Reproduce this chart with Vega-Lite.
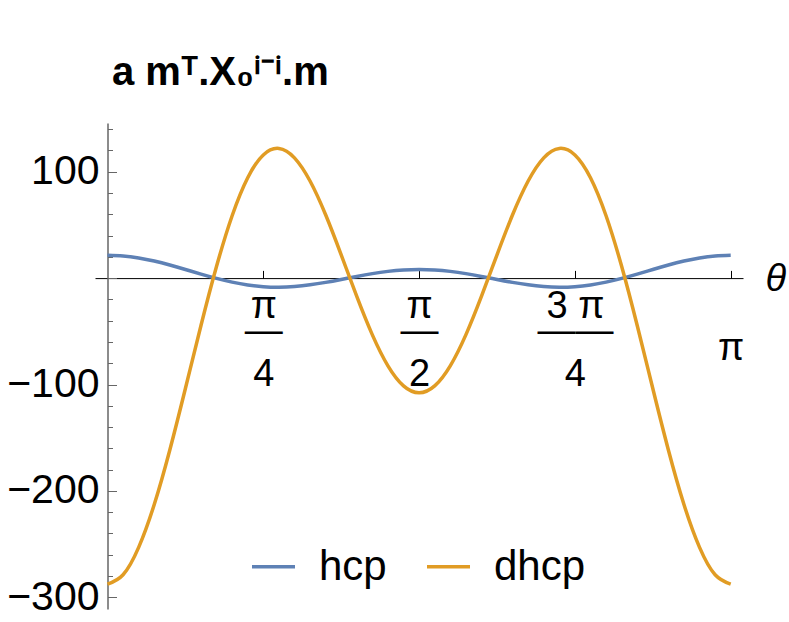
{
  "$schema": "https://vega.github.io/schema/vega-lite/v6.json",
  "width": 648,
  "height": 486,
  "autosize": {"type": "none"},
  "padding": {"left": 95, "top": 123, "right": 46, "bottom": 13},
  "background": "white",
  "config": {"view": {"stroke": null}},
  "title": {
    "text": "a mᵀ.X₀ⁱ⁻ⁱ.m",
    "anchor": "start",
    "frame": "group",
    "font": "Liberation Sans",
    "fontSize": 40,
    "fontWeight": "bold",
    "color": "black",
    "offset": 15,
    "dx": 17
  },
  "data": {
    "values": [
      {"theta": 0, "hcp": 21.5, "dhcp": -287.6},
      {"theta": 0.07854, "hcp": 20.86, "dhcp": -278.77},
      {"theta": 0.15708, "hcp": 18.99, "dhcp": -253.07},
      {"theta": 0.23562, "hcp": 16.07, "dhcp": -212.81},
      {"theta": 0.31416, "hcp": 12.34, "dhcp": -161.53},
      {"theta": 0.3927, "hcp": 8.13, "dhcp": -103.77},
      {"theta": 0.47124, "hcp": 3.8, "dhcp": -44.55},
      {"theta": 0.54978, "hcp": -0.27, "dhcp": 11.12},
      {"theta": 0.62832, "hcp": -3.76, "dhcp": 58.67},
      {"theta": 0.70686, "hcp": -6.4, "dhcp": 94.39},
      {"theta": 0.7854, "hcp": -8.0, "dhcp": 115.8},
      {"theta": 0.86394, "hcp": -8.48, "dhcp": 121.87},
      {"theta": 0.94248, "hcp": -7.87, "dhcp": 113.05},
      {"theta": 1.02102, "hcp": -6.31, "dhcp": 91.24},
      {"theta": 1.09956, "hcp": -4.02, "dhcp": 59.53},
      {"theta": 1.1781, "hcp": -1.28, "dhcp": 21.87},
      {"theta": 1.25664, "hcp": 1.58, "dhcp": -17.25},
      {"theta": 1.33518, "hcp": 4.22, "dhcp": -53.37},
      {"theta": 1.41372, "hcp": 6.34, "dhcp": -82.45},
      {"theta": 1.49226, "hcp": 7.72, "dhcp": -101.29},
      {"theta": 1.5708, "hcp": 8.2, "dhcp": -107.8},
      {"theta": 1.64934, "hcp": 7.72, "dhcp": -101.29},
      {"theta": 1.72788, "hcp": 6.34, "dhcp": -82.45},
      {"theta": 1.80642, "hcp": 4.22, "dhcp": -53.37},
      {"theta": 1.88496, "hcp": 1.58, "dhcp": -17.25},
      {"theta": 1.9635, "hcp": -1.28, "dhcp": 21.87},
      {"theta": 2.04204, "hcp": -4.02, "dhcp": 59.53},
      {"theta": 2.12058, "hcp": -6.31, "dhcp": 91.24},
      {"theta": 2.19911, "hcp": -7.87, "dhcp": 113.05},
      {"theta": 2.27765, "hcp": -8.48, "dhcp": 121.87},
      {"theta": 2.35619, "hcp": -8.0, "dhcp": 115.8},
      {"theta": 2.43473, "hcp": -6.4, "dhcp": 94.39},
      {"theta": 2.51327, "hcp": -3.76, "dhcp": 58.67},
      {"theta": 2.59181, "hcp": -0.27, "dhcp": 11.12},
      {"theta": 2.67035, "hcp": 3.8, "dhcp": -44.55},
      {"theta": 2.74889, "hcp": 8.13, "dhcp": -103.77},
      {"theta": 2.82743, "hcp": 12.34, "dhcp": -161.53},
      {"theta": 2.90597, "hcp": 16.07, "dhcp": -212.81},
      {"theta": 2.98451, "hcp": 18.99, "dhcp": -253.07},
      {"theta": 3.06305, "hcp": 20.86, "dhcp": -278.77},
      {"theta": 3.14159, "hcp": 21.5, "dhcp": -287.6}
    ]
  },
  "transform": [{"fold": ["hcp", "dhcp"], "as": ["series", "value"]}],
  "mark": {"type": "line", "interpolate": "natural", "strokeWidth": 3.5, "clip": false},
  "encoding": {
    "x": {
      "field": "theta",
      "type": "quantitative",
      "scale": {"domain": [-0.063, 3.2036], "nice": false, "zero": false},
      "axis": {
        "orient": "bottom",
        "offset": -330.9,
        "values": [0.785398, 1.570796, 2.356194, 3.141593],
        "grid": false,
        "domainColor": "black",
        "domainWidth": 1,
        "tickColor": "black",
        "tickWidth": 1,
        "tickSize": -7.7,
        "labelPadding": 16.6,
        "labelFont": "Liberation Sans",
        "labelFontSize": 38,
        "labelColor": "black",
        "labelLineHeight": 8.5,
        "labelOverlap": false,
        "labelFlush": false,
        "labelBound": false,
        "labelExpr": "datum.value < 1 ? ['π','\u200b','\u200b','—','\u200b','\u200b','\u200b','\u200b','4'] : datum.value < 2 ? ['π','\u200b','\u200b','—','\u200b','\u200b','\u200b','\u200b','2'] : datum.value < 3 ? ['3 π','\u200b','\u200b','——','\u200b','\u200b','\u200b','\u200b','4'] : ['\u200b','\u200b','\u200b','\u200b','\u200b','π']",
        "title": "θ",
        "titleFont": "Liberation Sans",
        "titleFontSize": 38,
        "titleFontStyle": "italic",
        "titleFontWeight": "normal",
        "titleColor": "black",
        "titleAlign": "left",
        "titleBaseline": "middle",
        "titleAngle": 0,
        "titleX": 670,
        "titleY": 1
      }
    },
    "y": {
      "field": "value",
      "type": "quantitative",
      "scale": {"domain": [-311, 145.8], "nice": false, "zero": false},
      "axis": {
        "orient": "left",
        "offset": -12.5,
        "values": [-300, -280, -260, -240, -220, -200, -180, -160, -140, -120, -100, -80, -60, -40, -20, 0, 20, 40, 60, 80, 100, 120, 140],
        "grid": false,
        "domainColor": "#666666",
        "domainWidth": 1.5,
        "tickColor": "#666666",
        "tickWidth": 1,
        "tickSize": {"condition": {"test": "datum.value % 100 === 0", "value": -9}, "value": -5},
        "labelPadding": 17.5,
        "labelFont": "Liberation Sans",
        "labelFontSize": 41,
        "labelColor": "black",
        "labelOverlap": false,
        "labelFlush": false,
        "labelBound": false,
        "labelExpr": "datum.value % 100 === 0 && datum.value !== 0 ? datum.label : ''",
        "title": null
      }
    },
    "color": {
      "field": "series",
      "type": "nominal",
      "scale": {"domain": ["hcp", "dhcp"], "range": ["#5E81B5", "#E19C24"]},
      "legend": {
        "orient": "none",
        "legendX": 155,
        "legendY": 420,
        "direction": "horizontal",
        "title": null,
        "symbolType": "stroke",
        "symbolSize": 1849,
        "symbolStrokeWidth": 3.5,
        "labelFont": "Liberation Sans",
        "labelFontSize": 42,
        "labelColor": "black",
        "labelOffset": 22,
        "columnPadding": 33,
        "padding": 0
      }
    }
  }
}
